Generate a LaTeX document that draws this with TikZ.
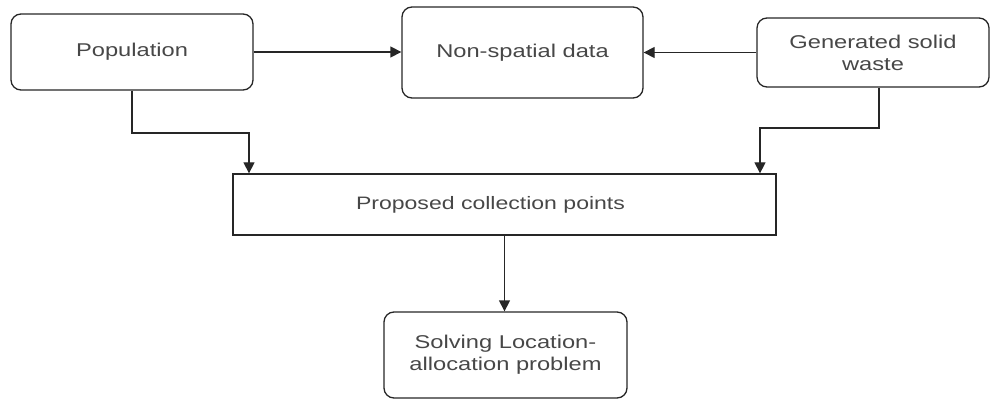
\documentclass[tikz,border=0pt]{standalone}
\usepackage{fontspec}
\setmainfont[FakeStretch=1.28]{Liberation Sans}
\usetikzlibrary{arrows.meta}
\begin{document}
\begin{tikzpicture}[x=1pt,y=-1pt,
  rbox/.style={draw=black!85,line width=1.3pt,rounded corners=10pt,align=center,text=black!72,font=\fontsize{18.5}{22}\selectfont,inner sep=0pt},
  sbox/.style={draw=black!85,line width=1.3pt,align=center,text=black!72,font=\fontsize{18}{22}\selectfont,inner sep=0pt},
  arr/.style={draw=black!85,line width=1.3pt,-{Triangle[length=11pt,width=11pt]}}]
\useasboundingbox (0,0) rectangle (992,403);
\node[rbox,minimum width=242pt,minimum height=76pt] (pop) at (132,52) {Population};
\node[rbox,minimum width=241pt,minimum height=91pt] (ns) at (522.5,52.5) {Non-spatial data};
\node[rbox,minimum width=232pt,minimum height=69pt] (gen) at (873,52.5) {Generated solid\\waste};
\node[sbox,minimum width=543pt,minimum height=61pt] (pcp) at (504.5,204.5) {Proposed collection points\hspace*{28pt}};
\node[rbox,minimum width=243pt,minimum height=86pt] (sol) at (505.5,355) {Solving Location-\\allocation problem};
\draw[arr] (pop.east) -- (pop.east -| ns.west);
\draw[arr] (gen.west) -- (gen.west -| ns.east);
\draw[arr] (pop.south) -- (132,133) -- (249,133) -- (249,0 |- pcp.north);
\draw[arr] (gen.south -| 879,0) -- (879,128) -- (760,128) -- (760,0 |- pcp.north);
\draw[arr] (pcp.south) -- (pcp.south |- sol.north);
\end{tikzpicture}
\end{document}
